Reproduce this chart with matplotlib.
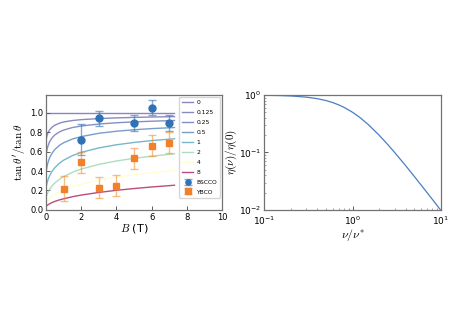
import matplotlib
matplotlib.use("Agg")
import matplotlib.pyplot as plt
import numpy as np

plt.rcParams["mathtext.fontset"] = "cm"

# left panel: tan(theta')/tan(theta) versus B for several eta values
b_field = [0, 0.05, 0.1, 0.2, 0.35, 0.5, 0.75, 1, 1.5, 2, 3, 4, 5, 6, 7.3]
eta_values = [0, 0.125, 0.25, 0.5, 1, 2, 4, 8]
eta_labels = ["0", "0.125", "0.25", "0.5", "1", "2", "4", "8"]
tan_ratio = [
    [1.0] * 15,
    [0.716, 0.759, 0.787, 0.822, 0.851, 0.870, 0.890, 0.903, 0.918, 0.927, 0.938, 0.945, 0.950, 0.954, 0.958],
    [0.560, 0.615, 0.652, 0.700, 0.742, 0.770, 0.800, 0.820, 0.846, 0.862, 0.882, 0.895, 0.904, 0.911, 0.918],
    [0.385, 0.440, 0.480, 0.535, 0.585, 0.620, 0.662, 0.690, 0.728, 0.753, 0.787, 0.808, 0.823, 0.835, 0.846],
    [0.231, 0.272, 0.304, 0.350, 0.399, 0.434, 0.478, 0.511, 0.558, 0.591, 0.637, 0.669, 0.693, 0.712, 0.731],
    [0.130, 0.158, 0.179, 0.212, 0.249, 0.277, 0.314, 0.343, 0.387, 0.420, 0.468, 0.503, 0.530, 0.552, 0.576],
    [0.070, 0.0855, 0.098, 0.119, 0.142, 0.161, 0.186, 0.207, 0.240, 0.266, 0.305, 0.336, 0.361, 0.382, 0.405],
    [0.036, 0.045, 0.052, 0.063, 0.077, 0.088, 0.103, 0.115, 0.136, 0.153, 0.180, 0.202, 0.220, 0.236, 0.254],
]

bscco_b = [2, 3, 5, 6, 7]
bscco_ratio = [0.72, 0.94, 0.89, 1.05, 0.89]
bscco_err = [0.16, 0.08, 0.08, 0.08, 0.08]

ybco_b = [1, 2, 3, 4, 5, 6, 7]
ybco_ratio = [0.22, 0.49, 0.23, 0.25, 0.53, 0.66, 0.69]
ybco_err = [0.13, 0.11, 0.11, 0.11, 0.11, 0.11, 0.11]

# right panel: eta(nu)/eta(0)
nu = [0.1, 0.15, 0.2, 0.3, 0.4, 0.5, 0.6, 0.7, 0.8, 1.0, 1.2, 1.5, 2, 2.5, 3, 4, 5, 6, 7, 8, 10]
eta_ratio = [0.99, 0.978, 0.962, 0.917, 0.862, 0.80, 0.735, 0.671, 0.61, 0.50, 0.41, 0.308,
             0.20, 0.138, 0.10, 0.059, 0.0385, 0.027, 0.02, 0.0154, 0.0099]

fig = plt.figure(figsize=(4.63, 3.28), dpi=100)
ax_left = fig.add_axes([0.0994, 0.3598, 0.3801, 0.3506])
ax_right = fig.add_axes([0.571, 0.3598, 0.381, 0.3506])

cmap = plt.get_cmap("Spectral_r")
for eta, label, curve in zip(eta_values, eta_labels, tan_ratio):
    ax_left.plot(b_field, curve, color=cmap(eta / 8), alpha=0.7, lw=1.0, label=label)

ax_left.errorbar(bscco_b, bscco_ratio, yerr=bscco_err, fmt="o", color="#2f72b5",
                 ms=5, capsize=3, elinewidth=1.0, ecolor=(0.18, 0.45, 0.71, 0.6),
                 label="BSCCO")
ax_left.errorbar(ybco_b, ybco_ratio, yerr=ybco_err, fmt="s", color="#f0802a",
                 ms=5, capsize=3, elinewidth=1.0, ecolor=(0.95, 0.55, 0.15, 0.55),
                 label="YBCO")

ax_left.set_xlim(0, 10)
ax_left.set_ylim(0, 1.18)
ax_left.set_yticks([0.0, 0.2, 0.4, 0.6, 0.8, 1.0])
ax_left.set_xlabel(r"$B$ (T)", fontsize=8, labelpad=0)
ax_left.set_ylabel(r"$\tan\theta'/\tan\theta$", fontsize=8, labelpad=2)
ax_left.legend(loc="upper right", fontsize=4.3, handlelength=1.8, handletextpad=0.6,
               labelspacing=0.8, borderpad=0.5, markerscale=0.75, edgecolor="0.8",
               borderaxespad=0.3)

ax_right.loglog(nu, eta_ratio, color="#4a7fc1", lw=0.9)
ax_right.set_xlim(0.1, 10)
ax_right.set_ylim(0.01, 1)
ax_right.set_xlabel(r"$\nu/\nu^{*}$", fontsize=8.5, labelpad=0)
ax_right.set_ylabel(r"$\eta(\nu)/\eta(0)$", fontsize=8, labelpad=0)

for ax in (ax_left, ax_right):
    ax.tick_params(direction="in", labelsize=6, length=3, width=0.6, colors="0.25",
                   labelcolor="black", pad=2)
    ax.tick_params(which="minor", direction="in", length=1.5, width=0.5, colors="0.5")
    for spine in ax.spines.values():
        spine.set_color("0.45")
        spine.set_linewidth(0.9)
ax_right.tick_params(labelsize=6.5)
ax_right.tick_params(axis="x", pad=3)

fig.savefig("out.png", dpi=100)
